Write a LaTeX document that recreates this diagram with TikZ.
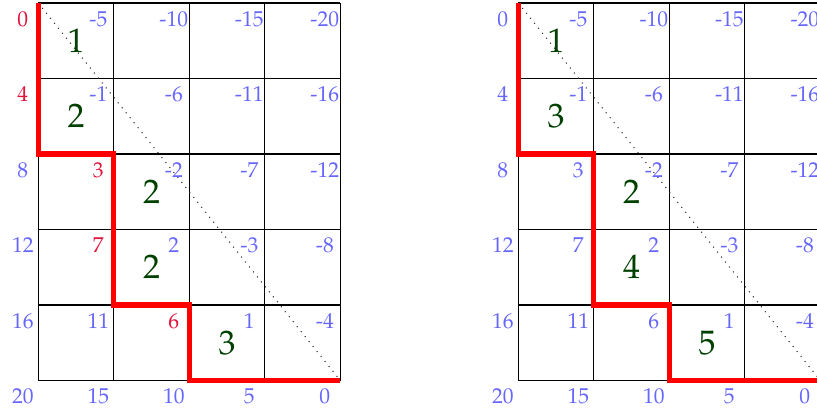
\documentclass[tikz,border=0pt]{standalone}
\usepackage[T1]{fontenc}
\usepackage{mathpazo}
\definecolor{lblblue}{RGB}{102,102,255}
\definecolor{lblred}{RGB}{225,20,60}
\definecolor{cntgreen}{RGB}{0,64,0}
\begin{document}
\begin{tikzpicture}[line join=miter, x=1cm, y=1cm]
	\tikzset{val/.style={font=\fontsize{8.1}{9}\selectfont, inner sep=0pt},
		cnt/.style={font=\fontsize{12.8}{15}\selectfont, text=cntgreen, inner sep=0pt},
		walk/.style={red, line width=1.9pt, line cap=butt}}
	\useasboundingbox (-0.507,-0.43) rectangle (10.314,5.04);
	% two lattices: name / shift / red labels? / counts along the walk
	\foreach \g/\dx/\isred/\cnts in {L/0/1/{1,2,2,2,3}, R/6.358/0/{1,3,2,4,5}}{
		\begin{scope}[xshift=\dx cm]
			\draw[line width=0.4pt] (0,0) grid (4,5);
			\draw[dotted, black!80] (0,5) -- (4,0);
			\draw[walk] (0,5) -- (0,3) -- (1,3) -- (1,1) -- (2,1) -- (2,0) -- (4,0);
			\foreach \c in {0,...,4}
			\foreach \r in {0,...,5}{
				\pgfmathtruncatemacro\v{4*\r-5*\c}
				\pgfmathtruncatemacro\pc{{0,0,1,1,2,9}[\r]}
				\def\tc{lblblue}
				\ifnum\c=\pc\relax\ifnum\isred=1 \def\tc{lblred}\fi\fi
				\node[val, text=\tc] (\g-\c-\r) at (\c-0.205,4.79-\r) {\v};
			}
			\foreach \n [count=\r from 0] in \cnts{
				\pgfmathtruncatemacro\pc{{0,0,1,1,2}[\r]}
				\node[cnt] (\g-n\r) at (\pc+0.5,4.5-\r) {\n};
			}
		\end{scope}
	}
\end{tikzpicture}
\end{document}
